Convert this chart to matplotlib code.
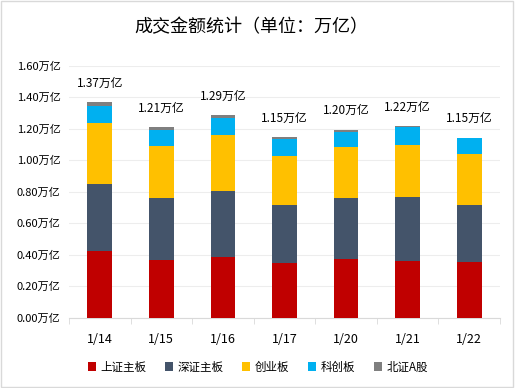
import matplotlib
matplotlib.use("Agg")
import matplotlib.pyplot as plt
import numpy as np
from matplotlib.patches import Rectangle

plt.rcParams['font.family'] = ['Noto Sans CJK SC', 'DejaVu Sans']

dates = ["1/14", "1/15", "1/16", "1/17", "1/20", "1/21", "1/22"]
series_names = ["上证主板", "深证主板", "创业板", "科创板", "北证A股"]
sh_main = [0.425, 0.368, 0.387, 0.349, 0.372, 0.362, 0.355]
sz_main = [0.424, 0.392, 0.417, 0.366, 0.388, 0.404, 0.360]
chinext = [0.387, 0.330, 0.356, 0.311, 0.326, 0.330, 0.324]
star = [0.110, 0.101, 0.110, 0.106, 0.093, 0.112, 0.099]
bse = [0.023, 0.019, 0.017, 0.015, 0.015, 0.008, 0.005]
total_labels = ["1.37万亿", "1.21万亿", "1.29万亿", "1.15万亿", "1.20万亿", "1.22万亿", "1.15万亿"]
yticks = [0.0, 0.2, 0.4, 0.6, 0.8, 1.0, 1.2, 1.4, 1.6]

colors = ["#C00000", "#44546A", "#FFC000", "#00B0F0", "#7F7F7F"]

fig = plt.figure(figsize=(5.15, 3.88), dpi=100)
fig.patches.append(Rectangle((0.002, 0.002), 0.995, 0.995, transform=fig.transFigure,
                             fill=False, edgecolor="#D9D9D9", linewidth=1.0))
ax = fig.add_axes([69/515, 1 - 317.7/388, (500-69)/515, (317.7-65.7)/388])

x = np.arange(len(dates))
data = [sh_main, sz_main, chinext, star, bse]
bottom = np.zeros(len(dates))
for name, vals, c in zip(series_names, data, colors):
    ax.bar(x, vals, bottom=bottom, width=0.4, color=c, label=name, zorder=3)
    bottom = bottom + np.array(vals)

for xi, top, lab in zip(x, bottom, total_labels):
    ax.annotate(lab, (xi, top), xytext=(0, 9), textcoords="offset points",
                ha="center", va="bottom", fontsize=8.5, color="#000000")

ax.set_xlim(-0.5, len(dates) - 0.5)
ax.set_ylim(0, 1.6)
ax.set_yticks(yticks)
ax.set_yticklabels([f"{v:.2f}万亿" for v in yticks], fontsize=8)
ax.set_xticks(x)
ax.set_xticklabels(dates, fontsize=9)
ax.set_xticks(np.arange(-0.5, len(dates), 1.0), minor=True)
ax.tick_params(axis='x', which='major', length=0, pad=11)
ax.tick_params(axis='x', which='minor', length=4, color="#D9D9D9")
ax.tick_params(axis='y', length=0, pad=6)
ax.grid(axis='y', color="#EDEDED", linewidth=0.8, zorder=0)
for s in ["left", "right", "top"]:
    ax.spines[s].set_visible(False)
ax.spines["bottom"].set_color("#D9D9D9")

fig.text(251/515, 1 - 27/388, "成交金额统计（单位：万亿）", ha="center", va="center",
         fontsize=13, color="#000000")

handles, labels = ax.get_legend_handles_labels()
fig.legend(handles, labels, loc="center", bbox_to_anchor=(258/515, 1 - 367/388),
           ncol=5, frameon=False, fontsize=8.3, handlelength=0.7, handleheight=0.7,
           handletextpad=0.4, columnspacing=1.6)

fig.savefig("out.png", dpi=100)
